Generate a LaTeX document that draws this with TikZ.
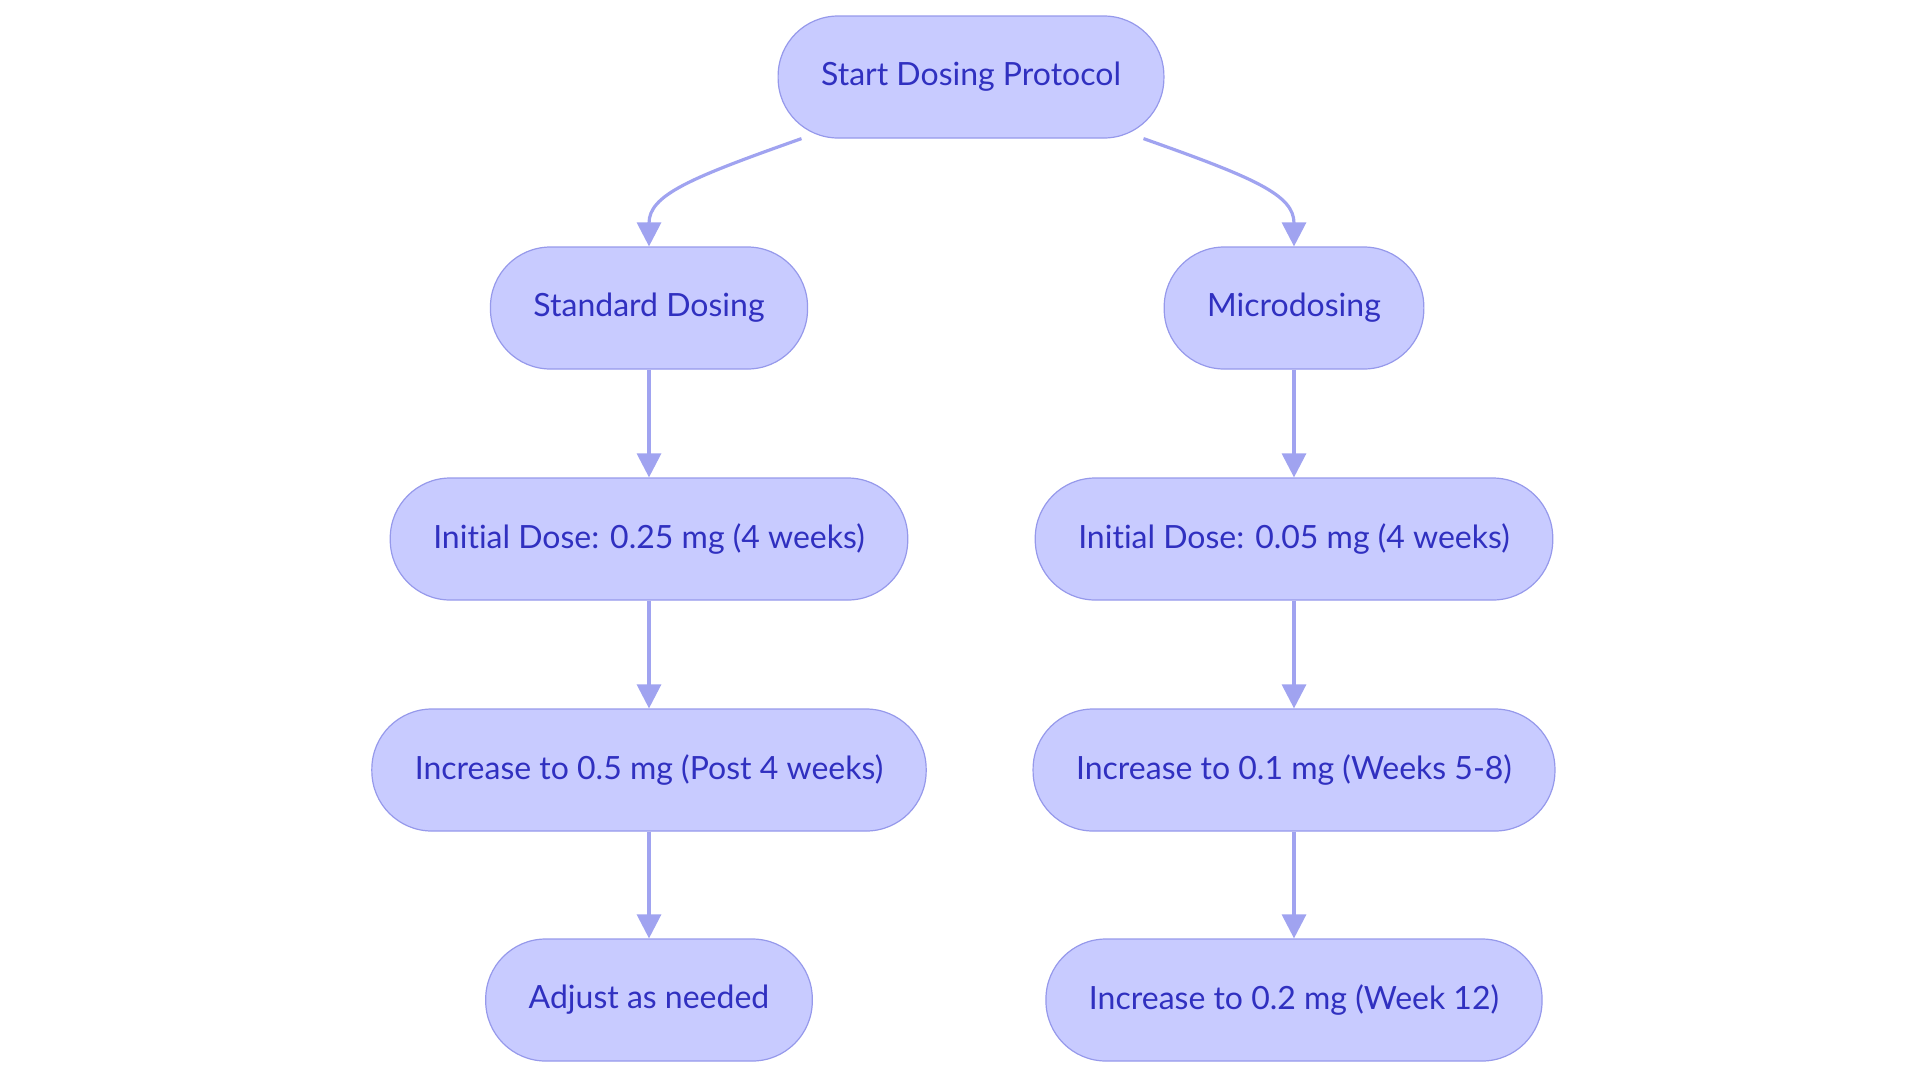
\documentclass[tikz,border=0pt]{standalone}
\usepackage{fontspec}
\setmainfont{Lato}[Ligatures=NoCommon]
\usetikzlibrary{arrows.meta}
\definecolor{boxfill}{RGB}{200,203,255}
\definecolor{boxline}{RGB}{150,153,235}
\definecolor{boxtext}{RGB}{48,48,192}
\definecolor{flowline}{RGB}{160,163,240}

\begin{document}
\begin{tikzpicture}[x=0.5pt,y=-0.5pt,
    stepbox/.style={draw=boxline, fill=boxfill, text=boxtext, line width=0.6pt,
      rounded corners=30pt, minimum height=61pt, inner xsep=21.5pt,
      font=\fontsize{16}{18}\selectfont},
    flow/.style={draw=flowline, line width=1.6pt, -{Triangle[length=12pt,width=12pt]}}]
    \useasboundingbox (0,0) rectangle (1920,1083);

    \node[stepbox] (sdp) at (971,77) {Start Dosing Protocol};
    \node[stepbox] (std) at (649,308) {Standard Dosing};
    \node[stepbox] (mic) at (1294,308) {Microdosing};
    \node[stepbox] (stdi) at (649,539) {Initial Dose: 0.25 mg (4 weeks)};
    \node[stepbox] (mici) at (1294,539) {Initial Dose: 0.05 mg (4 weeks)};
    \node[stepbox] (stdup) at (649,770) {Increase to 0.5 mg (Post 4 weeks)};
    \node[stepbox] (micup) at (1294,770) {Increase to 0.1 mg (Weeks 5-8)};
    \node[stepbox] (stdadj) at (649,1000) {Adjust as needed};
    \node[stepbox] (micend) at (1294,1000) {Increase to 0.2 mg (Week 12)};

    \draw[flow] ([xshift=12pt]sdp.south west) .. controls (690,178) and (649,195) .. (std.north);
    \draw[flow] ([xshift=-10.5pt]sdp.south east) .. controls (1255,178) and (1294,195) .. (mic.north);
    \draw[flow] (std) -- (stdi);
    \draw[flow] (stdi) -- (stdup);
    \draw[flow] (stdup) -- (stdadj);
    \draw[flow] (mic) -- (mici);
    \draw[flow] (mici) -- (micup);
    \draw[flow] (micup) -- (micend);
\end{tikzpicture}
\end{document}
